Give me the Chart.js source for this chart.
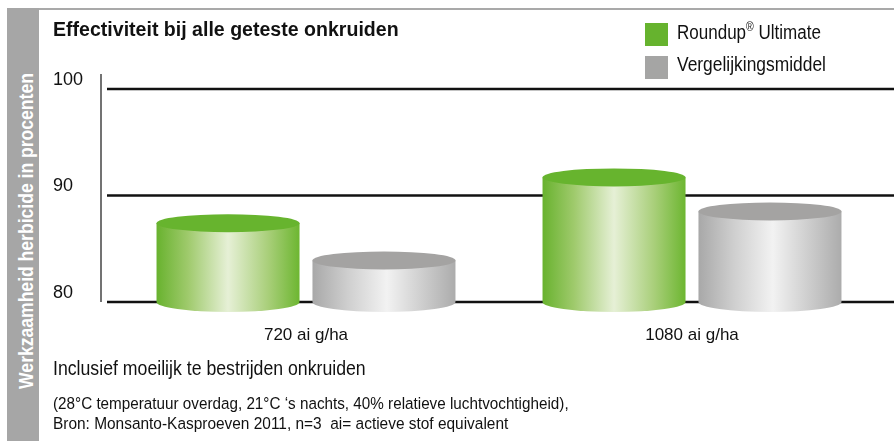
<!DOCTYPE html>
<html lang="nl">
<head>
<meta charset="utf-8">
<script src="https://cdn.jsdelivr.net/npm/chart.js@4.4.1/dist/chart.umd.min.js"></script>
<style>
  html, body { margin:0; padding:0; background:#fff; }
  body { width:894px; height:441px; position:relative; overflow:hidden;
         font-family:'Liberation Sans',Arial,sans-serif; color:#111; }
  #chart { position:absolute; left:0; top:0; }
  .topline { position:absolute; left:7px; top:8px; width:887px; height:2px; background:#a9a9a9; }
  .band { position:absolute; left:7px; top:8px; width:32px; height:433px; background:#a6a6a6; }
  .txt { position:absolute; white-space:nowrap; line-height:1; transform-origin:0 0; }
  .band span { position:absolute; left:19px; top:223px; white-space:nowrap; line-height:1;
               transform-origin:0 0; color:#fff; font-weight:bold; font-size:20px; }
  .title { left:53px; top:20px; font-weight:bold; font-size:19.5px; }
  .sq { position:absolute; left:645px; width:23px; height:23px; }
  .leg { left:677px; font-size:19.5px; }
  .leg sup { font-size:12px; vertical-align:8px; line-height:0; }
  .note { left:53px; top:359px; font-size:19.5px; }
  .src { left:53px; font-size:16.3px; }
</style>
</head>
<body>
<canvas id="chart" width="894" height="441"></canvas>
<div class="topline"></div>
<div class="band"><span id="side">Werkzaamheid herbicide in procenten</span></div>
<div class="txt title" data-w="346">Effectiviteit bij alle geteste onkruiden</div>
<div class="sq" style="top:23px;background:#66b32e"></div>
<div class="sq" style="top:56px;background:#a5a5a4"></div>
<div class="txt leg" style="top:22.5px" data-w="144">Roundup<sup>®</sup> Ultimate</div>
<div class="txt leg" style="top:55px" data-w="149">Vergelijkingsmiddel</div>
<div class="txt note" data-w="313">Inclusief moeilijk te bestrijden onkruiden</div>
<div class="txt src" style="top:394.5px" data-w="516">(28°C temperatuur overdag, 21°C ‘s nachts, 40% relatieve luchtvochtigheid),</div>
<div class="txt src" style="top:414.5px" data-w="455">Bron: Monsanto-Kasproeven 2011, n=3&nbsp; ai= actieve stof equivalent</div>

<script>
// data
const categories = ['720 ai g/ha', '1080 ai g/ha'];
const seriesNames = ['Roundup® Ultimate', 'Vergelijkingsmiddel'];
const roundupValues = [87.4, 91.7];
const vergelijkValues = [83.9, 88.5];
const yTicks = [80, 90, 100];

// squeeze the html texts to the narrow look of the original
document.querySelectorAll('.txt[data-w]').forEach(el => {
  el.style.transform = 'scaleX(' + (el.dataset.w / el.offsetWidth) + ')';
});
const side = document.getElementById('side');
side.style.transform = 'rotate(-90deg) scaleX(' + (316 / side.offsetWidth) + ') translate(-50%,-50%)';

// cylinder look per dataset: side gradient stops + top colour
const looks = [
  { top: '#67b42e', stops: [[0, '#68b22e'], [0.22, '#9fca6c'], [0.5, '#e6f0d6'], [0.78, '#a9cf7a'], [1, '#6db631']] },
  { top: '#a4a3a2', stops: [[0, '#a8a8a8'], [0.25, '#cfcfcf'], [0.52, '#f2f2f2'], [0.8, '#c9c9c9'], [1, '#acacac']] }
];

const cylinders = {
  id: 'cylinders',
  beforeDatasetsDraw(chart) {
    const ctx = chart.ctx;
    const area = chart.chartArea;
    const y = chart.scales.y;
    ctx.save();
    // left axis line
    ctx.strokeStyle = '#444';
    ctx.lineWidth = 1.5;
    ctx.beginPath();
    ctx.moveTo(area.left - 12, area.top - 15);
    ctx.lineTo(area.left - 12, area.bottom);
    ctx.stroke();
    // grid lines, running a bit past the plot on both sides
    ctx.strokeStyle = '#111';
    ctx.lineWidth = 2.5;
    y.ticks.forEach(t => {
      const py = y.getPixelForValue(t.value);
      ctx.beginPath();
      ctx.moveTo(area.left - 6, py);
      ctx.lineTo(chart.width, py);
      ctx.stroke();
    });

    chart.data.datasets.forEach((ds, i) => {
      const look = looks[i];
      chart.getDatasetMeta(i).data.forEach(bar => {
        const p = bar.getProps(['x', 'y', 'base', 'width']);
        const rx = p.width / 2, ry = 9;
        const left = p.x - rx, right = p.x + rx;
        const g = ctx.createLinearGradient(left, 0, right, 0);
        look.stops.forEach(s => g.addColorStop(s[0], s[1]));
        ctx.fillStyle = g;
        ctx.beginPath();
        ctx.moveTo(left, p.y);
        ctx.lineTo(left, p.base);
        ctx.ellipse(p.x, p.base, rx, ry + 1, 0, Math.PI, 0, true);
        ctx.lineTo(right, p.y);
        ctx.closePath();
        ctx.fill();
        ctx.fillStyle = look.top;
        ctx.beginPath();
        ctx.ellipse(p.x, p.y, rx, ry, 0, 0, Math.PI * 2);
        ctx.fill();
      });
    });
    ctx.restore();
    return false;
  }
};

const fontFamily = "'Liberation Sans',Arial,sans-serif";

new Chart(document.getElementById('chart'), {
  type: 'bar',
  data: {
    labels: categories,
    datasets: [
      { label: seriesNames[0], data: roundupValues, base: yTicks[0], backgroundColor: '#66b32e' },
      { label: seriesNames[1], data: vergelijkValues, base: yTicks[0], backgroundColor: '#a5a5a4' }
    ]
  },
  options: {
    responsive: false,
    animation: false,
    devicePixelRatio: 1,
    categoryPercentage: 0.808,
    barPercentage: 0.917,
    layout: { padding: { left: 53, top: 89, right: 9, bottom: 0 } },
    plugins: { legend: { display: false }, title: { display: false }, tooltip: { enabled: false } },
    scales: {
      x: {
        grid: { display: false, drawTicks: false },
        border: { display: false },
        ticks: { color: '#111', padding: 23, font: { family: fontFamily, size: 17 } },
        afterFit: s => { s.height = 139; }
      },
      y: {
        min: yTicks[0],
        max: yTicks[yTicks.length - 1],
        afterBuildTicks: s => { s.ticks = yTicks.map(v => ({ value: v })); },
        grid: { display: false, drawTicks: false },
        border: { display: false },
        ticks: { color: '#111', crossAlign: 'far', labelOffset: -9, font: { family: fontFamily, size: 18 } },
        afterFit: s => { s.width = 60; }
      }
    }
  },
  plugins: [cylinders]
});
</script>
</body>
</html>
